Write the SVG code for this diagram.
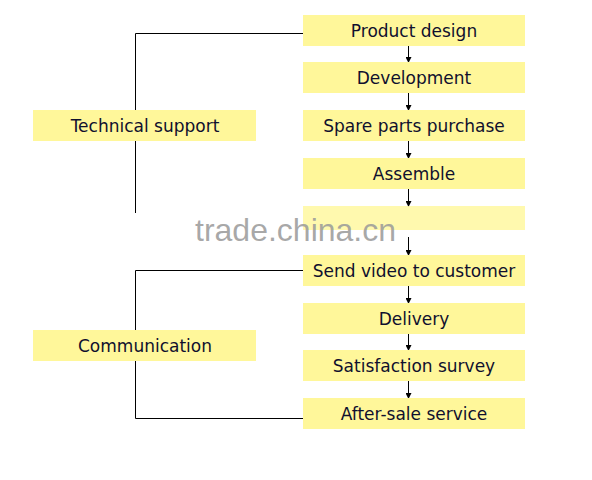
<svg xmlns="http://www.w3.org/2000/svg" width="592" height="480" viewBox="0 0 592 480">
<style>
.box{fill:#FFF79A}
.t{font-family:"Comic Sans MS","DejaVu Sans","Liberation Sans",sans-serif;font-size:17px;fill:#10102e;text-anchor:middle;dominant-baseline:central}
.c{stroke:#000;stroke-width:1;fill:none}
.wm{font-family:"Liberation Sans",Arial,sans-serif;font-size:32px;fill:#999;fill-opacity:0.85}
</style>
<defs>
<marker id="ah" markerWidth="6" markerHeight="6" refX="5" refY="3" orient="auto" markerUnits="userSpaceOnUse">
<path d="M0,0 L6,3 L0,6 z" fill="#000"/>
</marker>
</defs>
<rect width="592" height="480" fill="#fff"/>
<g id="connectors">
<polyline class="c" points="303,33.5 135.5,33.5 135.5,213"/>
<polyline class="c" points="303,270.5 135.5,270.5 135.5,418.5 303,418.5"/>
<line class="c" x1="408.5" y1="46" x2="408.5" y2="62" marker-end="url(#ah)"/>
<line class="c" x1="408.5" y1="93" x2="408.5" y2="110" marker-end="url(#ah)"/>
<line class="c" x1="408.5" y1="141" x2="408.5" y2="158" marker-end="url(#ah)"/>
<line class="c" x1="408.5" y1="189" x2="408.5" y2="206" marker-end="url(#ah)"/>
<line class="c" x1="408.5" y1="237" x2="408.5" y2="255" marker-end="url(#ah)"/>
<line class="c" x1="408.5" y1="286" x2="408.5" y2="303" marker-end="url(#ah)"/>
<line class="c" x1="408.5" y1="334" x2="408.5" y2="350" marker-end="url(#ah)"/>
<line class="c" x1="408.5" y1="381" x2="408.5" y2="398" marker-end="url(#ah)"/>
</g>
<g id="n-tech"><rect class="box" x="33" y="110" width="223" height="31"/><text class="t" x="145" y="126">Technical support</text></g>
<g id="n-comm"><rect class="box" x="33" y="330" width="223" height="31"/><text class="t" x="145" y="346">Communication</text></g>
<g id="n1"><rect class="box" x="303" y="15" width="222" height="31"/><text class="t" x="414" y="31">Product design</text></g>
<g id="n2"><rect class="box" x="303" y="62" width="222" height="31"/><text class="t" x="414" y="78">Development</text></g>
<g id="n3"><rect class="box" x="303" y="110" width="222" height="31"/><text class="t" x="414" y="126">Spare parts purchase</text></g>
<g id="n4"><rect class="box" x="303" y="158" width="222" height="31"/><text class="t" x="414" y="174">Assemble</text></g>
<g id="n5"><rect class="box" x="303" y="206" width="222" height="24" opacity="0.8"/></g>
<g id="n6"><rect class="box" x="303" y="255" width="222" height="31"/><text class="t" x="414" y="271">Send video to customer</text></g>
<g id="n7"><rect class="box" x="303" y="303" width="222" height="31"/><text class="t" x="414" y="319">Delivery</text></g>
<g id="n8"><rect class="box" x="303" y="350" width="222" height="31"/><text class="t" x="414" y="366">Satisfaction survey</text></g>
<g id="n9"><rect class="box" x="303" y="398" width="222" height="31"/><text class="t" x="414" y="414">After-sale service</text></g>
<text class="wm" x="195" y="241">trade.china.cn</text>
</svg>
